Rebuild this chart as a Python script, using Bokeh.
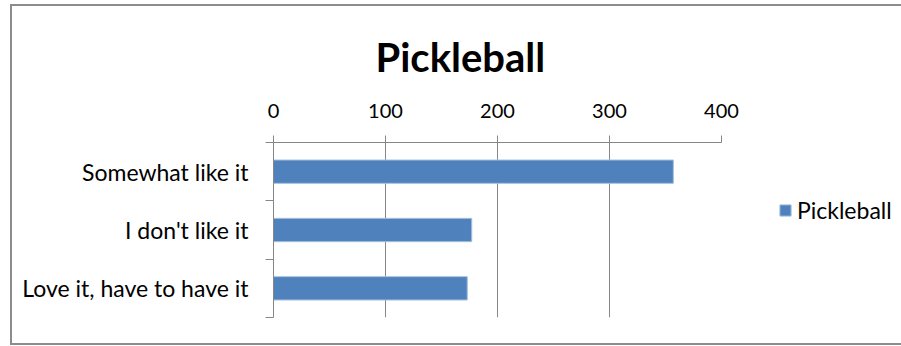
from bokeh.plotting import figure
from bokeh.models import (Range1d, FixedTicker, Legend, LegendItem, ColumnDataSource)
from bokeh.embed import file_html
from bokeh.resources import INLINE

# ---- data ----
categories = ["Love it, have to have it", "I don't like it", "Somewhat like it"]
values = [173, 177, 357]
series_name = "Pickleball"
title_text = "Pickleball"
x_ticks = [0, 100, 200, 300, 400]

FONT = "Lato"
GRAY = "#868686"

ypos = [i + 0.5 for i in range(len(categories))]
src = ColumnDataSource(dict(y=ypos, v=values, cat=categories))

p = figure(frame_width=448, frame_height=175, output_backend="svg", toolbar_location=None,
           x_range=Range1d(0, 400), y_range=Range1d(0, len(categories)),
           x_axis_location="above",
           min_border_left=261, min_border_right=178, min_border_top=136,
           min_border_bottom=26)
p.margin = (4, 0, 0, 10)
p.styles = {"border-left": "2px solid #8c8c8c", "border-top": "2px solid #8c8c8c",
            "border-bottom": "2px solid #8c8c8c", "border-right": "none"}

r = p.hbar(y="y", right="v", left=0, height=0.4, source=src,
           fill_color="#4F81BD", line_color="#A7C0DE", line_width=1)

# x axis (top)
xa = p.xaxis[0]
xa.ticker = FixedTicker(ticks=x_ticks)
xa.axis_line_color = GRAY
xa.major_tick_line_color = GRAY
xa.major_tick_out = 7
xa.major_tick_in = 0
xa.minor_tick_line_color = None
xa.major_label_text_font = FONT
xa.major_label_text_font_size = "20px"
xa.major_label_text_color = "#000000"
xa.major_label_standoff = 18

# y axis (left)
ya = p.yaxis[0]
ya.ticker = FixedTicker(ticks=ypos, minor_ticks=list(range(len(categories) + 1)))
ya.major_label_overrides = {y: c for y, c in zip(ypos, categories)}
ya.axis_line_color = GRAY
ya.major_tick_line_color = None
ya.major_tick_out = 0
ya.major_tick_in = 0
ya.minor_tick_line_color = GRAY
ya.minor_tick_out = 8
ya.minor_tick_in = 0
ya.major_label_text_font = FONT
ya.major_label_text_font_size = "23px"
ya.major_label_text_color = "#000000"
ya.major_label_standoff = 17

p.xgrid.grid_line_color = GRAY
p.xgrid.ticker = FixedTicker(ticks=x_ticks)
p.ygrid.grid_line_color = None
p.outline_line_color = None

p.title.text = title_text
p.title.text_font = FONT
p.title.text_font_size = "40px"
p.title.text_font_style = "bold"
p.title.text_color = "#000000"
p.title.align = "left"
p.title.offset = 102
p.title.standoff = 40

legend = Legend(items=[LegendItem(label=series_name, renderers=[r])],
                location=(57, 93), orientation="vertical",
                label_text_font=FONT, label_text_font_size="23px",
                label_text_color="#000000",
                glyph_width=14, glyph_height=14, label_height=20,
                label_standoff=5, padding=0, margin=0, spacing=0,
                border_line_color=None, background_fill_alpha=0)
p.add_layout(legend, "right")

open("out.html", "w").write(file_html(p, INLINE))
